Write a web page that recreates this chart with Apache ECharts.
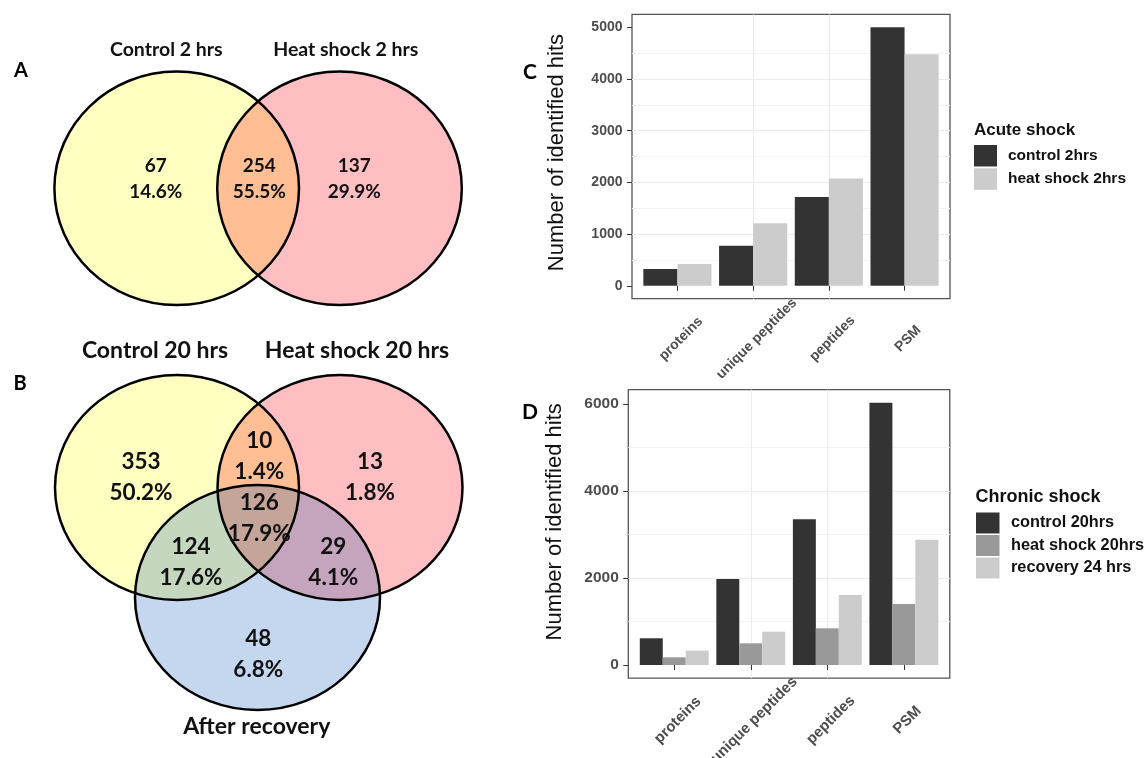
<!DOCTYPE html>
<html>
<head>
<meta charset="utf-8">
<script src="https://cdn.jsdelivr.net/npm/echarts@6/dist/echarts.min.js"></script>
<style>
html,body{margin:0;padding:0;background:#fff;}
#chart{width:1147px;height:758px;}
</style>
</head>
<body>
<div id="chart"></div>
<script>
// ---------------- data ----------------
const barCategories = ['proteins', 'unique peptides', 'peptides', 'PSM'];

const acuteSeriesNames = ['control 2hrs', 'heat shock 2hrs'];
const acuteControl = [323, 775, 1716, 5000];
const acuteHeat = [420, 1212, 2076, 4481];
const acuteTicks = [0, 1000, 2000, 3000, 4000, 5000];

const chronicSeriesNames = ['control 20hrs', 'heat shock 20hrs', 'recovery 24 hrs'];
const chronicControl = [614, 1977, 3349, 6030];
const chronicHeat = [177, 498, 843, 1402];
const chronicRecovery = [329, 766, 1609, 2881];
const chronicTicks = [0, 2000, 4000, 6000];

const vennASets = ['Control 2 hrs', 'Heat shock 2 hrs'];
const vennACounts = [67, 254, 137];
const vennAPercents = ['14.6%', '55.5%', '29.9%'];

const vennBSets = ['Control 20 hrs', 'Heat shock 20 hrs', 'After recovery'];
const vennBCounts = [353, 10, 13, 126, 124, 29, 48];
const vennBPercents = ['50.2%', '1.4%', '1.8%', '17.9%', '17.6%', '4.1%', '6.8%'];

// ---------------- layout / style (not data) ----------------
const vennLayout = {
  aEllipses: [[176.7, 188.3, 122.3, 116.7], [339.5, 188.3, 122.3, 116.7]],
  aSetPos: [[166.3, 50], [345.7, 50]],
  aRegionPos: [[155.7, 178.7], [259.3, 178.7], [354.3, 178.7]],
  bEllipses: [[177, 487.5, 122, 112.5], [340, 487.5, 122.5, 112.5], [257.5, 597.5, 122.5, 112.5]],
  bSetPos: [[155, 350.7], [357, 350.7], [256.7, 726.7]],
  bRegionPos: [[141, 477.2], [259.3, 456.7], [370, 477.2], [259.3, 518], [191, 562.7], [333.3, 562.7], [258.3, 654.7]]
};
// translucent fills: overlaps blend like the original
const fillYellow = 'rgba(255,255,0,0.24)';
const fillPink = 'rgba(255,0,12,0.255)';
const fillBlue = 'rgba(0,80,180,0.227)';
const vennFillsA = [fillYellow, fillPink];
const vennFillsB = [fillYellow, fillPink, fillBlue];
const VFONT = 'Lato';
const AFONT = '"Liberation Sans", Arial, sans-serif';

const ellipseItems = [];
vennLayout.aEllipses.forEach((e, i) => ellipseItems.push({ e: e, fill: vennFillsA[i] }));
vennLayout.bEllipses.forEach((e, i) => ellipseItems.push({ e: e, fill: vennFillsB[i] }));

const textItems = [];
vennASets.forEach((s, i) => textItems.push({ p: vennLayout.aSetPos[i], text: s, size: 19.5, lh: 24 }));
vennACounts.forEach((c, i) => textItems.push({ p: vennLayout.aRegionPos[i], text: c + '\n' + vennAPercents[i], size: 19, lh: 26 }));
vennBSets.forEach((s, i) => textItems.push({ p: vennLayout.bSetPos[i], text: s, size: 23, lh: 28 }));
vennBCounts.forEach((c, i) => textItems.push({ p: vennLayout.bRegionPos[i], text: c + '\n' + vennBPercents[i], size: 22.5, lh: 31 }));

const catPositions = barCategories.map((_, i) => i + 1);
const catFormatter = v => barCategories[Math.round(v) - 1] || '';

function pairData(values) { return values.map((v, i) => [catPositions[i], v]); }

const maxAcute = Math.max(...acuteControl, ...acuteHeat);
const maxChronic = Math.max(...chronicControl, ...chronicHeat, ...chronicRecovery);

function xAxisFor(grid, fontSize, margin, lh) {
  return {
    gridIndex: grid, type: 'value', min: 0.4, max: 4.6, minInterval: 1, maxInterval: 1,
    axisLine: { show: false },
    axisTick: { show: true, length: 5, customValues: catPositions, lineStyle: { color: '#333', width: 1 } },
    axisLabel: {
      customValues: catPositions, formatter: catFormatter, rotate: 45,
      align: 'center', verticalAlign: 'top', lineHeight: lh, margin: margin,
      fontSize: fontSize, fontWeight: 'bold', color: '#4D4D4D', fontFamily: AFONT
    },
    splitLine: { show: true, showMinLine: false, showMaxLine: false, lineStyle: { color: '#EBEBEB', width: 1 } }
  };
}

function yAxisFor(grid, maxV, step, ticks, fontSize, splitNumber, nameGap, namePad) {
  return {
    gridIndex: grid, type: 'value', min: -0.05 * maxV, max: 1.05 * maxV,
    minInterval: step, maxInterval: step, splitNumber: splitNumber,
    axisLine: { show: false },
    axisTick: { show: true, length: 5, customValues: ticks, lineStyle: { color: '#333', width: 1 } },
    axisLabel: { customValues: ticks, formatter: v => String(v), fontSize: fontSize, fontWeight: 'bold', color: '#4D4D4D', margin: 9.5, fontFamily: AFONT },
    splitLine: { show: true, showMinLine: false, showMaxLine: false, lineStyle: { color: '#EBEBEB', width: 1 } },
    minorTick: { show: false, splitNumber: 2 },
    minorSplitLine: { show: true, lineStyle: { color: '#F3F3F3', width: 1 } },
    name: 'Number of identified hits', nameLocation: 'middle', nameGap: nameGap,
    nameTextStyle: { fontSize: 22, color: '#111', fontFamily: AFONT, lineHeight: 22, padding: [0, 0, 0, namePad] }
  };
}

function barSeries(name, values, color, xi, width) {
  return {
    type: 'bar', name: name, xAxisIndex: xi, yAxisIndex: xi,
    data: pairData(values), barWidth: width, barGap: '0%',
    itemStyle: { color: color }, silent: true
  };
}

function ellipseRender(withFill) {
  return function (params, api) {
    const c = api.coord([api.value(0), api.value(1)]);
    const s = api.size([api.value(2), api.value(3)]);
    return {
      type: 'ellipse',
      shape: { cx: c[0], cy: c[1], rx: Math.abs(s[0]), ry: Math.abs(s[1]) },
      style: withFill
        ? { fill: ellipseItems[params.dataIndex].fill, stroke: null, lineWidth: 0 }
        : { fill: 'none', stroke: '#000', lineWidth: 2.5 }
    };
  };
}

const option = {
  backgroundColor: '#ffffff',
  animation: false,
  grid: [
    { left: 632, top: 14.4, width: 318, height: 284.3, show: true, borderColor: '#555', borderWidth: 1.3, backgroundColor: 'transparent', outerBoundsMode: 'none' },
    { left: 628.3, top: 389.6, width: 321.5, height: 288.5, show: true, borderColor: '#555', borderWidth: 1.3, backgroundColor: 'transparent', outerBoundsMode: 'none' },
    { left: 0, top: 0, width: 540, height: 758, show: false, outerBoundsMode: 'none' }
  ],
  xAxis: [
    xAxisFor(0, 14, 36.5, 10),
    xAxisFor(1, 15, 38.5, 10),
    { gridIndex: 2, type: 'value', min: 0, max: 540, show: false }
  ],
  yAxis: [
    yAxisFor(0, maxAcute, 1000, acuteTicks, 14, 5, 63.6, 8),
    yAxisFor(1, maxChronic, 2000, chronicTicks, 15.5, 3, 62.6, 24),
    { gridIndex: 2, type: 'value', min: 0, max: 758, inverse: true, show: false }
  ],
  legend: [
    {
      data: acuteSeriesNames, orient: 'vertical', left: 974, top: 145,
      itemWidth: 23, itemHeight: 21.5, itemGap: 1.8, icon: 'rect', padding: 0, selectedMode: false,
      textStyle: { fontSize: 15.5, fontWeight: 'bold', color: '#111', fontFamily: AFONT, padding: [0, 0, 0, 6] }
    },
    {
      data: chronicSeriesNames, orient: 'vertical', left: 976, top: 512.5,
      itemWidth: 23.5, itemHeight: 21, itemGap: 1.5, icon: 'rect', padding: 0, selectedMode: false,
      textStyle: { fontSize: 16.3, fontWeight: 'bold', color: '#111', fontFamily: AFONT, padding: [0, 0, 0, 6.5] }
    }
  ],
  graphic: [
    { type: 'text', x: 21, y: 71, style: { text: 'A', fontSize: 20, fontWeight: 'bold', fontFamily: VFONT, fill: '#000', align: 'center', verticalAlign: 'middle' } },
    { type: 'text', x: 20, y: 384, style: { text: 'B', fontSize: 20, fontWeight: 'bold', fontFamily: VFONT, fill: '#000', align: 'center', verticalAlign: 'middle' } },
    { type: 'text', x: 530, y: 72, style: { text: 'C', fontSize: 21, fontWeight: 'bold', fontFamily: VFONT, fill: '#000', align: 'center', verticalAlign: 'middle' } },
    { type: 'text', x: 530, y: 412, style: { text: 'D', fontSize: 21, fontWeight: 'bold', fontFamily: VFONT, fill: '#000', align: 'center', verticalAlign: 'middle' } },
    { type: 'text', x: 974, y: 130, style: { text: 'Acute shock', fontSize: 17, fontWeight: 'bold', fontFamily: AFONT, fill: '#111', align: 'left', verticalAlign: 'middle' } },
    { type: 'text', x: 975.6, y: 497.3, style: { text: 'Chronic shock', fontSize: 18, fontWeight: 'bold', fontFamily: AFONT, fill: '#111', align: 'left', verticalAlign: 'middle' } }
  ],
  series: [
    barSeries(acuteSeriesNames[0], acuteControl, '#333333', 0, '45%'),
    barSeries(acuteSeriesNames[1], acuteHeat, '#CCCCCC', 0, '45%'),
    barSeries(chronicSeriesNames[0], chronicControl, '#333333', 1, '30%'),
    barSeries(chronicSeriesNames[1], chronicHeat, '#999999', 1, '30%'),
    barSeries(chronicSeriesNames[2], chronicRecovery, '#CCCCCC', 1, '30%'),
    {
      type: 'custom', xAxisIndex: 2, yAxisIndex: 2, silent: true, z: 2,
      data: ellipseItems.map(it => it.e),
      renderItem: ellipseRender(true)
    },
    {
      type: 'custom', xAxisIndex: 2, yAxisIndex: 2, silent: true, z: 3,
      data: ellipseItems.map(it => it.e),
      renderItem: ellipseRender(false)
    },
    {
      type: 'custom', xAxisIndex: 2, yAxisIndex: 2, silent: true, z: 4,
      data: textItems.map(it => it.p),
      renderItem: function (params, api) {
        const c = api.coord([api.value(0), api.value(1)]);
        const it = textItems[params.dataIndex];
        return {
          type: 'text', x: c[0], y: c[1],
          style: { text: it.text, fontSize: it.size, fontWeight: 'bold', fontFamily: VFONT, fill: '#111', align: 'center', verticalAlign: 'middle', lineHeight: it.lh }
        };
      }
    }
  ]
};

const chart = echarts.init(document.getElementById('chart'), null, { renderer: 'canvas' });
chart.setOption(option);
</script>
</body>
</html>
